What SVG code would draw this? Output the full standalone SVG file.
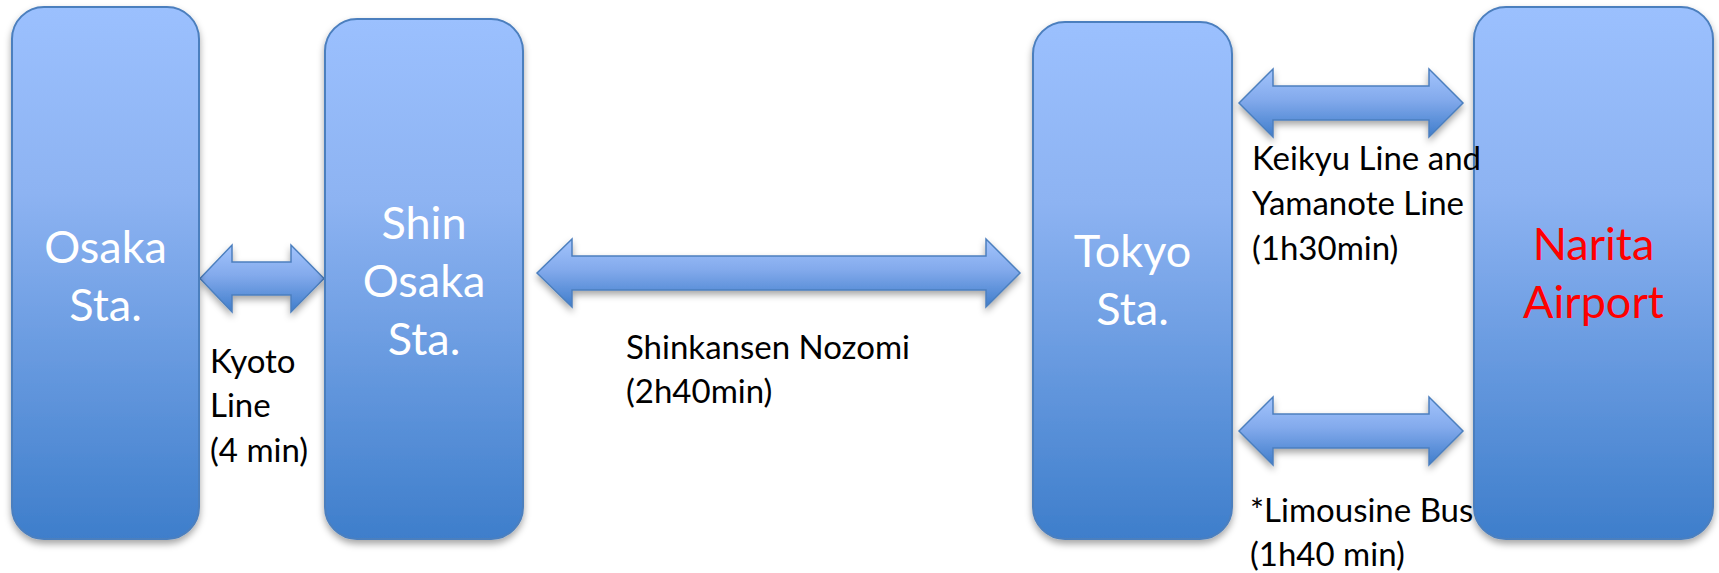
<svg xmlns="http://www.w3.org/2000/svg" width="1719" height="573" viewBox="0 0 1719 573">
<defs>
<linearGradient id="boxGrad" x1="0" y1="0" x2="0" y2="1">
<stop offset="0" stop-color="#9BC0FE"/>
<stop offset="0.35" stop-color="#8DB3F2"/>
<stop offset="1" stop-color="#3E7ECB"/>
</linearGradient>
<linearGradient id="arrowGrad" x1="0" y1="0" x2="0" y2="1">
<stop offset="0" stop-color="#A3C4FC"/>
<stop offset="0.45" stop-color="#83AAEC"/>
<stop offset="1" stop-color="#3F7DCB"/>
</linearGradient>
<filter id="shadow" x="-10%" y="-10%" width="120%" height="125%">
<feDropShadow dx="0" dy="4" stdDeviation="3.5" flood-color="#000" flood-opacity="0.35"/>
</filter>
</defs>
<style>
.box{fill:url(#boxGrad);stroke:#4C7FBE;stroke-width:2;filter:url(#shadow);}
.arrow{fill:url(#arrowGrad);stroke:#4C7FBE;stroke-width:1.5;filter:url(#shadow);}
.st{font-family:Lato,"Open Sans","Liberation Sans",sans-serif;font-size:45px;fill:#FFFFFF;text-anchor:middle;}
.red{fill:#FF0000;}
.lbl{font-family:Lato,"Open Sans","Liberation Sans",sans-serif;font-size:33px;fill:#000000;}
</style>
<rect width="1719" height="573" fill="#FFFFFF"/>
<g id="connectors">
<path class="arrow" d="M200,278.5 L232,245 L232,262 L291,262 L291,245 L324,278.5 L291,312 L291,295 L232,295 L232,312 Z"/>
<path class="arrow" d="M537,273 L572,239 L572,256 L986,256 L986,239 L1020,273 L986,307 L986,290 L572,290 L572,307 Z"/>
<path class="arrow" d="M1239,103 L1273,69 L1273,86 L1429,86 L1429,69 L1463,103 L1429,137 L1429,120 L1273,120 L1273,137 Z"/>
<path class="arrow" d="M1239,431 L1273,397 L1273,414 L1429,414 L1429,397 L1463,431 L1429,465 L1429,448 L1273,448 L1273,465 Z"/>
</g>
<g id="osaka">
<rect class="box" x="12" y="7" width="187" height="532" rx="32" ry="32"/>
<text class="st" x="105.5" y="263">Osaka</text>
<text class="st" x="105.5" y="321">Sta.</text>
</g>
<g id="shin-osaka">
<rect class="box" x="325" y="19" width="198" height="520" rx="32" ry="32"/>
<text class="st" x="424" y="239">Shin</text>
<text class="st" x="424" y="297">Osaka</text>
<text class="st" x="424" y="355">Sta.</text>
</g>
<g id="tokyo">
<rect class="box" x="1033" y="22" width="199" height="517" rx="32" ry="32"/>
<text class="st" x="1132.5" y="267">Tokyo</text>
<text class="st" x="1132.5" y="325">Sta.</text>
</g>
<g id="narita">
<rect class="box" x="1474" y="7" width="239" height="532" rx="32" ry="32"/>
<text class="st red" x="1593.5" y="260">Narita</text>
<text class="st red" x="1593.5" y="318">Airport</text>
</g>
<g id="labels">
<text class="lbl" x="210" y="373">Kyoto</text>
<text class="lbl" x="210" y="417">Line</text>
<text class="lbl" x="210" y="462">(4 min)</text>
<text class="lbl" x="626" y="359">Shinkansen Nozomi</text>
<text class="lbl" x="626" y="403">(2h40min)</text>
<text class="lbl" x="1252" y="170">Keikyu Line and</text>
<text class="lbl" x="1252" y="215">Yamanote Line</text>
<text class="lbl" x="1252" y="260">(1h30min)</text>
<text class="lbl" x="1250" y="522">*Limousine Bus</text>
<text class="lbl" x="1250" y="566">(1h40 min)</text>
</g>
</svg>
